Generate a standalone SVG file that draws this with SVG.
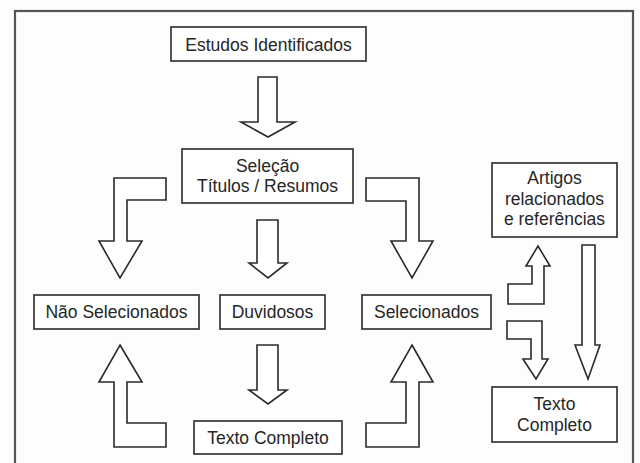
<svg xmlns="http://www.w3.org/2000/svg" width="640" height="463" viewBox="0 0 640 463">
<style>
.box{fill:#fff;stroke:#2a2a2a;stroke-width:1.6}
.arr{fill:#fff;stroke:#2a2a2a;stroke-width:1.6;stroke-linejoin:miter}
.t{font-family:"Liberation Sans",Arial,sans-serif;font-size:17.5px;fill:#262626;text-anchor:middle}
</style>
<rect x="0" y="0" width="640" height="463" fill="#fdfdfd"/>
<rect x="15" y="11" width="618" height="470" fill="#fdfdfd" stroke="#555" stroke-width="2.2"/>
<g id="connectors">
<path class="arr" d="M258,77 L277,77 L277,122 L295,122 L268,137 L241,122 L258,122 Z"/>
<path class="arr" d="M114,178 L166,178 L166,200 L127,200 L127,241 L142,241 L120,278 L99,241 L114,241 Z"/>
<path class="arr" d="M257,220 L278,220 L278,263 L287,263 L268,278 L249,263 L257,263 Z"/>
<path class="arr" d="M366,178 L419,178 L419,241 L433,241 L412,278 L391,241 L406,241 L406,201 L366,201 Z"/>
<path class="arr" d="M508,304 L544,304 L544,266 L550,266 L538,246 L526,266 L532,266 L532,284 L508,284 Z"/>
<path class="arr" d="M582,245 L595,245 L595,345 L600,345 L588,379 L575,345 L582,345 Z"/>
<path class="arr" d="M507,321 L542,321 L542,359 L548,359 L536,379 L523,359 L531,359 L531,339 L507,339 Z"/>
<path class="arr" d="M120,345 L142,382 L127,382 L127,423 L166,423 L166,447 L114,447 L114,382 L99,382 Z"/>
<path class="arr" d="M257,345 L278,345 L278,390 L287,390 L268,404 L249,390 L257,390 Z"/>
<path class="arr" d="M412,345 L433,382 L419,382 L419,447 L366,447 L366,423 L406,423 L406,382 L391,382 Z"/>
</g>
<g id="estudos">
<rect class="box" x="171" y="27" width="195" height="34"/>
<text class="t" x="268.5" y="50.5">Estudos Identificados</text>
</g>
<g id="selecao">
<rect class="box" x="182" y="149" width="171" height="54"/>
<text class="t" x="267.5" y="172">Seleção</text>
<text class="t" x="267.5" y="192">Títulos / Resumos</text>
</g>
<g id="nao-selecionados">
<rect class="box" x="34" y="295" width="165" height="34"/>
<text class="t" x="116.5" y="318">Não Selecionados</text>
</g>
<g id="duvidosos">
<rect class="box" x="220" y="295" width="105" height="34"/>
<text class="t" x="272.5" y="318">Duvidosos</text>
</g>
<g id="selecionados">
<rect class="box" x="362" y="295" width="129" height="34"/>
<text class="t" x="426.5" y="318">Selecionados</text>
</g>
<g id="artigos">
<rect class="box" x="492" y="163" width="125" height="74"/>
<text class="t" x="554.5" y="184">Artigos</text>
<text class="t" x="554.5" y="205">relacionados</text>
<text class="t" x="554.5" y="225">e referências</text>
</g>
<g id="texto-completo">
<rect class="box" x="194" y="421" width="148" height="33"/>
<text class="t" x="268" y="444">Texto Completo</text>
</g>
<g id="texto-completo-2">
<rect class="box" x="492" y="387" width="125" height="55"/>
<text class="t" x="554.5" y="410">Texto</text>
<text class="t" x="554.5" y="431">Completo</text>
</g>
</svg>
